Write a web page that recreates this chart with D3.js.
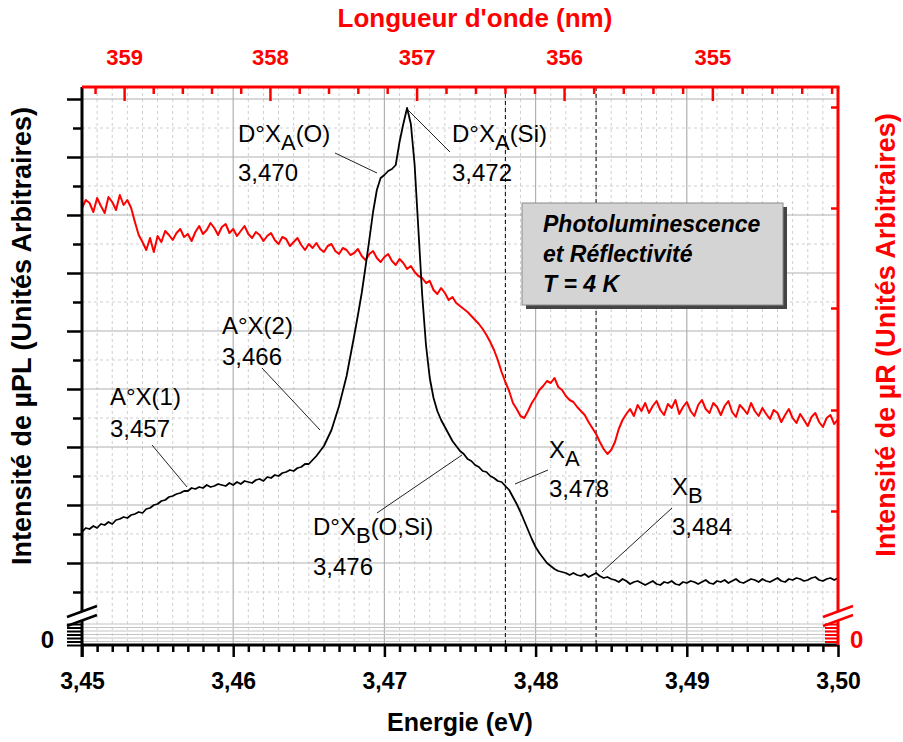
<!DOCTYPE html>
<html><head><meta charset="utf-8">
<script src="https://cdn.jsdelivr.net/npm/d3@7"></script>
<style>body{margin:0;background:#fff}svg{display:block}</style>
</head><body><svg id="c" width="903" height="742"></svg>
<script>
// ---------------- DATA ----------------
const energy = [
3.45,3.45025,3.4505,3.45075,3.451,3.45125,3.4515,3.45175,3.452,3.45225,3.4525,3.45275,
3.453,3.45325,3.4535,3.45375,3.454,3.45425,3.4545,3.45475,3.455,3.45525,3.4555,3.45575,
3.456,3.45625,3.4565,3.45675,3.457,3.45725,3.4575,3.45775,3.458,3.45825,3.4585,3.45875,
3.459,3.45925,3.4595,3.45975,3.46,3.46025,3.4605,3.46075,3.461,3.46125,3.4615,3.46175,
3.462,3.46225,3.4625,3.46275,3.463,3.46325,3.4635,3.46375,3.464,3.46425,3.4645,3.46475,
3.465,3.46525,3.4655,3.46575,3.466,3.46625,3.4665,3.46675,3.467,3.46725,3.4675,3.46775,
3.468,3.46825,3.4685,3.46875,3.469,3.46925,3.4695,3.46975,3.47,3.47025,3.4705,3.47075,
3.471,3.47125,3.4715,3.47175,3.472,3.47225,3.4725,3.47275,3.473,3.47325,3.4735,3.47375,
3.474,3.47425,3.4745,3.47475,3.475,3.47525,3.4755,3.47575,3.476,3.47625,3.4765,3.47675,
3.477,3.47725,3.4775,3.47775,3.478,3.47825,3.4785,3.47875,3.479,3.47925,3.4795,3.47975,
3.48,3.48025,3.4805,3.48075,3.481,3.48125,3.4815,3.48175,3.482,3.48225,3.4825,3.48275,
3.483,3.48325,3.4835,3.48375,3.484,3.48425,3.4845,3.48475,3.485,3.48525,3.4855,3.48575,
3.486,3.48625,3.4865,3.48675,3.487,3.48725,3.4875,3.48775,3.488,3.48825,3.4885,3.48875,
3.489,3.48925,3.4895,3.48975,3.49,3.49025,3.4905,3.49075,3.491,3.49125,3.4915,3.49175,
3.492,3.49225,3.4925,3.49275,3.493,3.49325,3.4935,3.49375,3.494,3.49425,3.4945,3.49475,
3.495,3.49525,3.4955,3.49575,3.496,3.49625,3.4965,3.49675,3.497,3.49725,3.4975,3.49775,
3.498,3.49825,3.4985,3.49875,3.499,3.49925,3.4995,3.49975,3.5];

// µPL intensity (arbitrary units)
const plIntensity = [
80,84,83,86,84,88,87,90,88,92,
93,95,94,97,98,100,99,103,104,107,
108,111,112,115,116,118,119,121,121,124,
123,125,124,127,125,126,128,127,126,129,
127,130,128,131,130,129,132,133,131,135,
134,137,136,139,140,142,141,144,145,148,
148,152,156,161,166,174,182,194,206,221,
236,256,276,297,319,345,372,400,422,434,
437,441,443,447,470,488,504,488,447,382,
317,267,234,214,201,192,185,178,171,166,
161,158,153,151,147,145,141,140,136,134,
131,130,126,122,115,108,100,91,82,73,
65,59,54,49,46,43,41,40,39,37,
39,37,36,38,35,37,39,36,34,35,
33,32,30,33,31,28,30,31,29,27,
29,31,28,27,30,29,31,28,27,30,
29,31,30,28,30,32,29,28,31,30,
32,29,31,33,30,29,31,33,32,30,
33,31,30,32,34,31,30,33,32,34,
33,31,32,34,35,32,31,33,34,32,
34];

// µR intensity (arbitrary units)
const rIntensity = [
404,412,409,400,414,406,399,415,410,402,
417,407,412,404,390,377,370,362,374,360,
376,370,381,377,372,379,383,375,378,371,
380,386,378,382,389,384,377,385,388,379,
383,376,381,386,378,374,380,377,371,376,
379,372,368,375,373,366,370,374,367,362,
368,364,369,363,360,366,368,361,358,364,
362,357,359,363,356,352,358,361,354,350,
355,358,351,347,353,349,343,346,340,336,
334,329,331,322,318,324,319,312,315,309,
306,303,300,296,292,288,283,277,270,262,
252,240,230,221,209,203,196,194,201,209,
215,222,226,231,229,234,225,222,216,212,
210,205,201,197,190,184,178,170,163,158,
162,170,183,192,198,203,196,207,201,209,
199,206,211,202,197,208,204,212,198,205,
210,201,196,207,212,203,199,209,205,197,
206,211,200,195,207,203,198,209,201,196,
204,198,193,202,199,190,197,203,194,189,
198,192,186,195,199,190,185,194,197,188,
193];

const energyTicks = [3.45,3.46,3.47,3.48,3.49,3.50];
const wavelengthTicks = [355,356,357,358,359];
const plMajorTicks = [49,107,165,223,281,339,397,455,513];
const plMinorTicks = [20,78,136,194,252,310,368,426,484];
const rTicks = [101,202,304,404,505];
const lowTicks = [0,1,2,3,4,5,6];
const markerEnergies = [3.478,3.484];

const annLabels = [
  {pre:"A°X(1)", sub:"", post:"", value:"3,457"},
  {pre:"A°X(2)", sub:"", post:"", value:"3,466"},
  {pre:"D°X", sub:"A", post:"(O)", value:"3,470"},
  {pre:"D°X", sub:"A", post:"(Si)", value:"3,472"},
  {pre:"D°X", sub:"B", post:"(O,Si)", value:"3,476"},
  {pre:"X", sub:"A", post:"", value:"3,478"},
  {pre:"X", sub:"B", post:"", value:"3,484"}
];
const legendLines = ["Photoluminescence","et Réflectivité","T = 4 K"];

// ---------------- LAYOUT ----------------
const HC = 1239.55;
const L = 82, R = 838, T = 87, B = 645, BRK = 612;
const FONT = "'Liberation Sans', Arial, Helvetica, sans-serif";
const RED = "#ff0000";
// annotation placement: text left x, label baseline, value baseline, leader line
const annLayout = [
  {x:110, y1:405, y2:437, l:[152,445,187,487]},
  {x:222, y1:334, y2:365, l:[262,368,320,430]},
  {x:238, y1:142, y2:181, l:[335,153,377,173]},
  {x:452, y1:142, y2:181, l:[408,110,450,152]},
  {x:313, y1:535, y2:575, l:[377,513,462,455]},
  {x:549, y1:458, y2:497, l:[515,484,548,470]},
  {x:672, y1:495, y2:535, l:[602,572,672,508]}
];

const svg = d3.select("#c");
const x = d3.scaleLinear().domain([3.45,3.50]).range([L,R]);
const yPL = d3.scaleLinear().domain([0,525]).range([BRK,T]);
const yR = d3.scaleLinear().domain([0,525]).range([BRK,T]);
const yLow = d3.scaleLinear().domain([0,6]).range([B,624]);

const locale = d3.formatLocale({decimal:",", thousands:".", grouping:[3], currency:["","€"]});
const fmt = locale.format(".2f");

// ---------- grid ----------
const grid = svg.append("g");
const minorE = d3.range(3451,3500).filter(v=>v%10!==0).map(v=>v/1000);
grid.selectAll(".vmin").data(minorE).join("line")
  .attr("x1",d=>x(d)).attr("x2",d=>x(d)).attr("y1",T).attr("y2",B)
  .attr("stroke","#cfcfcf").attr("stroke-width",1).attr("stroke-dasharray","3,3");
grid.selectAll(".vmaj").data(energyTicks.slice(1,-1)).join("line")
  .attr("x1",d=>x(d)).attr("x2",d=>x(d)).attr("y1",T).attr("y2",B)
  .attr("stroke","#b0b0b0").attr("stroke-width",1.2);
grid.selectAll(".hmin").data(plMinorTicks).join("line")
  .attr("x1",L).attr("x2",R).attr("y1",d=>yPL(d)).attr("y2",d=>yPL(d))
  .attr("stroke","#cfcfcf").attr("stroke-width",1).attr("stroke-dasharray","3,3");
grid.selectAll(".hmaj").data(plMajorTicks).join("line")
  .attr("x1",L).attr("x2",R).attr("y1",d=>yPL(d)).attr("y2",d=>yPL(d))
  .attr("stroke","#b0b0b0").attr("stroke-width",1.2);
grid.selectAll(".hlow").data(lowTicks.slice(1)).join("line")
  .attr("x1",L).attr("x2",R).attr("y1",d=>yLow(d)).attr("y2",d=>yLow(d))
  .attr("stroke","#c4c4c4").attr("stroke-width",1);

// marker dashed lines
svg.append("g").selectAll("line").data(markerEnergies).join("line")
  .attr("x1",d=>x(d)).attr("x2",d=>x(d)).attr("y1",T).attr("y2",B)
  .attr("stroke","#000").attr("stroke-width",1).attr("stroke-dasharray","4,3");

// ---------- curves ----------
svg.append("defs").append("clipPath").attr("id","clip")
  .append("rect").attr("x",L).attr("y",T).attr("width",R-L).attr("height",BRK-T);
const rLine = d3.line().x((d,i)=>x(energy[i])).y(d=>yR(d));
const pLine = d3.line().x((d,i)=>x(energy[i])).y(d=>yPL(d));
svg.append("path").datum(rIntensity).attr("d",rLine).attr("clip-path","url(#clip)")
  .attr("fill","none").attr("stroke",RED).attr("stroke-width",2).attr("stroke-linejoin","round");
svg.append("path").datum(plIntensity).attr("d",pLine).attr("clip-path","url(#clip)")
  .attr("fill","none").attr("stroke","#000").attr("stroke-width",1.8).attr("stroke-linejoin","round");

// ---------- legend box ----------
const lg = svg.append("g");
lg.append("rect").attr("x",526).attr("y",207).attr("width",261).attr("height",102).attr("fill","#444");
lg.append("rect").attr("x",522).attr("y",203).attr("width",261).attr("height",102)
  .attr("fill","#d4d4d4").attr("stroke","#8a8a8a").attr("stroke-width",1);
lg.selectAll("text").data(legendLines).join("text")
  .attr("x",543).attr("y",(d,i)=>232+i*30)
  .attr("font-family",FONT).attr("font-size",23).attr("font-weight","bold").attr("font-style","italic")
  .attr("fill","#000").text(d=>d);

// ---------- annotations ----------
const ag = svg.append("g");
annLabels.forEach((a,i)=>{
  const p = annLayout[i];
  ag.append("line").attr("x1",p.l[0]).attr("y1",p.l[1]).attr("x2",p.l[2]).attr("y2",p.l[3])
    .attr("stroke","#222").attr("stroke-width",1);
  const t = ag.append("text").attr("x",p.x).attr("y",p.y1)
    .attr("font-family",FONT).attr("font-size",24).attr("fill","#000");
  t.append("tspan").text(a.pre);
  if(a.sub){
    t.append("tspan").attr("dy",8).attr("font-size",22).text(a.sub);
    if(a.post) t.append("tspan").attr("dy",-8).text(a.post);
  }
  ag.append("text").attr("x",p.x).attr("y",p.y2)
    .attr("font-family",FONT).attr("font-size",24).attr("fill","#000").text(a.value);
});

// ---------- axes ----------
function styleAxis(g,color,sw){
  g.select(".domain").remove();
  g.selectAll(".tick line").attr("stroke",color).attr("stroke-width",sw);
  g.selectAll(".tick text").attr("fill",color).attr("font-family",FONT).attr("font-weight","bold");
}
// bottom
const gb = svg.append("g").attr("transform",`translate(0,${B})`)
  .call(d3.axisBottom(x).tickValues(energyTicks).tickSize(12).tickPadding(16).tickFormat(fmt));
styleAxis(gb,"#000",2.5); gb.selectAll("text").attr("font-size",23);
const gbm = svg.append("g").attr("transform",`translate(0,${B})`)
  .call(d3.axisBottom(x).tickValues(minorE).tickSize(7).tickFormat(""));
styleAxis(gbm,"#000",2.5);
// top (wavelength)
const gt = svg.append("g").attr("transform",`translate(0,${T})`)
  .call(d3.axisTop(x).tickValues(wavelengthTicks.map(l=>HC/l)).tickSize(-14).tickPadding(22)
    .tickFormat(e=>Math.round(HC/e)));
styleAxis(gt,RED,2.5); gt.selectAll("text").attr("font-size",22);
const minorL = d3.range(3542,3594,2).filter(v=>v%10!==0).map(v=>HC/(v/10));
const gtm = svg.append("g").attr("transform",`translate(0,${T})`)
  .call(d3.axisTop(x).tickValues(minorL).tickSize(-7).tickFormat(""));
styleAxis(gtm,RED,2.5);
// left
const gl = svg.append("g").attr("transform",`translate(${L},0)`)
  .call(d3.axisLeft(yPL).tickValues(plMajorTicks).tickSize(15).tickFormat(""));
styleAxis(gl,"#000",2.5);
const glm = svg.append("g").attr("transform",`translate(${L},0)`)
  .call(d3.axisLeft(yPL).tickValues(plMinorTicks).tickSize(9).tickFormat(""));
styleAxis(glm,"#000",2.5);
const gll = svg.append("g").attr("transform",`translate(${L},0)`)
  .call(d3.axisLeft(yLow).tickValues(lowTicks).tickSize(15).tickPadding(13).tickFormat(d=>d===0?"0":""));
styleAxis(gll,"#000",2); gll.selectAll("text").attr("font-size",24).attr("dy","0.12em");
// right
const gr = svg.append("g").attr("transform",`translate(${R},0)`)
  .call(d3.axisLeft(yR).tickValues(rTicks).tickSize(7).tickFormat(""));
styleAxis(gr,RED,2.5);
const grl = svg.append("g").attr("transform",`translate(${R},0)`)
  .call(d3.axisRight(yLow).tickValues(lowTicks).tickSize(-13).tickPadding(12).tickFormat(d=>d===0?"0":""));
styleAxis(grl,RED,2); grl.selectAll("text").attr("font-size",24).attr("dy","0.12em");

// axis lines with break
const lw = 3;
svg.append("line").attr("x1",L).attr("x2",R).attr("y1",B).attr("y2",B).attr("stroke","#000").attr("stroke-width",lw);
svg.append("line").attr("x1",L).attr("x2",L).attr("y1",T).attr("y2",BRK-1).attr("stroke","#000").attr("stroke-width",lw);
svg.append("line").attr("x1",L).attr("x2",L).attr("y1",621).attr("y2",B+12).attr("stroke","#000").attr("stroke-width",lw);
svg.append("line").attr("x1",R).attr("x2",R).attr("y1",T).attr("y2",BRK-1).attr("stroke",RED).attr("stroke-width",lw);
svg.append("line").attr("x1",R).attr("x2",R).attr("y1",621).attr("y2",B).attr("stroke",RED).attr("stroke-width",lw);
svg.append("line").attr("x1",L).attr("x2",R+1.5).attr("y1",T).attr("y2",T).attr("stroke",RED).attr("stroke-width",lw);
// break marks
[[L,"#000"],[R,RED]].forEach(([cx,c])=>{
  [[617,606],[626,615]].forEach(([ya,yb])=>{
    svg.append("line").attr("x1",cx-15).attr("y1",ya).attr("x2",cx+15).attr("y2",yb)
      .attr("stroke",c).attr("stroke-width",2.5);
  });
});

// ---------- titles ----------
svg.append("text").attr("x",475).attr("y",27).attr("text-anchor","middle")
  .attr("font-family",FONT).attr("font-size",26).attr("font-weight","bold").attr("fill",RED)
  .text("Longueur d'onde (nm)");
svg.append("text").attr("x",460).attr("y",731).attr("text-anchor","middle")
  .attr("font-family",FONT).attr("font-size",25).attr("font-weight","bold").attr("fill","#000")
  .text("Energie (eV)");
svg.append("text").attr("transform","translate(31,336) rotate(-90)").attr("text-anchor","middle")
  .attr("font-family",FONT).attr("font-size",27).attr("font-weight","bold").attr("fill","#000")
  .text("Intensité de µPL (Unités Arbitraires)");
svg.append("text").attr("transform","translate(895,335) rotate(-90)").attr("text-anchor","middle")
  .attr("font-family",FONT).attr("font-size",27).attr("font-weight","bold").attr("fill",RED)
  .text("Intensité de µR (Unités Arbitraires)");
</script>
</body></html>
